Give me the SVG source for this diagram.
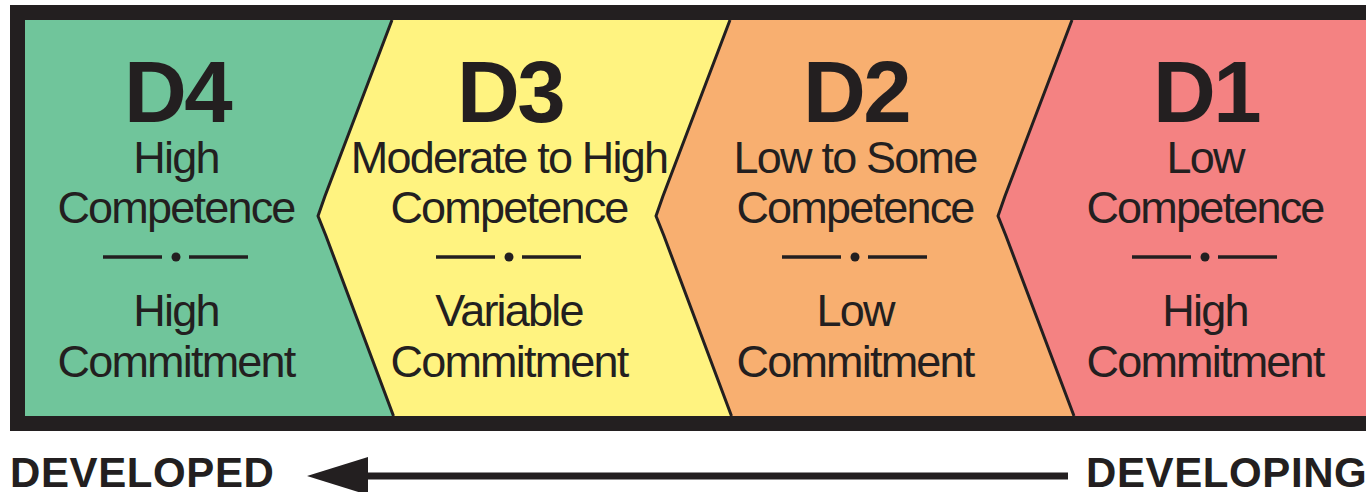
<svg xmlns="http://www.w3.org/2000/svg" width="1366" height="492" viewBox="0 0 1366 492">
  <style>
    .ink { fill: #231f20; }
    .title { font-family: "Liberation Sans", Arial, sans-serif; font-weight: bold; font-size: 87px; letter-spacing: -2.5px; fill: #231f20; text-anchor: middle; }
    .sub { font-family: "Liberation Sans", Arial, sans-serif; font-size: 45px; letter-spacing: -1.8px; fill: #231f20; text-anchor: middle; }
    .axis { font-family: "Liberation Sans", Arial, sans-serif; font-weight: bold; font-size: 42px; letter-spacing: 0.6px; fill: #231f20; }
    .sep { fill: none; stroke: #231f20; stroke-width: 3; stroke-linejoin: round; }
    .rule { stroke: #231f20; stroke-width: 3.5; }
  </style>
  <defs>
    <marker id="arrowhead" markerUnits="userSpaceOnUse" viewBox="0 0 61 38" markerWidth="61" markerHeight="38" refX="0" refY="19" orient="auto">
      <polygon points="0,0 61,19 0,38" fill="#231f20"/>
    </marker>
    <!-- divider: two short rules with a dot between them, centred on 0 -->
    <g id="divider">
      <line class="rule" x1="-73" y1="0" x2="-14" y2="0"/>
      <circle cx="0" cy="0" r="4.5" class="ink"/>
      <line class="rule" x1="13" y1="0" x2="72" y2="0"/>
    </g>
  </defs>

  <rect width="1366" height="492" fill="#ffffff"/>

  <!-- heavy frame (runs off the right edge) -->
  <rect x="10" y="5" width="1400" height="426" class="ink"/>

  <g id="D4">
    <polygon fill="#70c59b" points="25,20 392,20 325,196 318,216 326,236 393.5,416 25,416"/>
    <text class="title" x="177" y="122">D4</text>
    <text class="sub" x="176" y="173">High</text>
    <text class="sub" x="176" y="223">Competence</text>
    <use href="#divider" x="176" y="257"/>
    <text class="sub" x="176" y="326">High</text>
    <text class="sub" x="176" y="377">Commitment</text>
  </g>

  <g id="D3">
    <polygon fill="#fff380" points="392,20 730,20 663,196 656,216 664,236 731.5,416 393.5,416 326,236 318,216 325,196"/>
    <text class="title" x="510" y="122">D3</text>
    <text class="sub" x="509" y="173">Moderate to High</text>
    <text class="sub" x="509" y="223">Competence</text>
    <use href="#divider" x="509" y="257"/>
    <text class="sub" x="509" y="326">Variable</text>
    <text class="sub" x="509" y="377">Commitment</text>
  </g>

  <g id="D2">
    <polygon fill="#f8af70" points="730,20 1072,20 1005,196 998,216 1006,236 1074,416 731.5,416 664,236 656,216 663,196"/>
    <text class="title" x="856" y="122">D2</text>
    <text class="sub" x="855" y="173">Low to Some</text>
    <text class="sub" x="855" y="223">Competence</text>
    <use href="#divider" x="855" y="257"/>
    <text class="sub" x="855" y="326">Low</text>
    <text class="sub" x="855" y="377">Commitment</text>
  </g>

  <g id="D1">
    <polygon fill="#f48282" points="1072,20 1366,20 1366,416 1074,416 1006,236 998,216 1005,196"/>
    <text class="title" x="1206" y="122">D1</text>
    <text class="sub" x="1205" y="173">Low</text>
    <text class="sub" x="1205" y="223">Competence</text>
    <use href="#divider" x="1205" y="257"/>
    <text class="sub" x="1205" y="326">High</text>
    <text class="sub" x="1205" y="377">Commitment</text>
  </g>

  <!-- chevron borders between the stages -->
  <g id="separators">
    <polyline class="sep" points="392,20 325,196 318,216 326,236 393.5,416"/>
    <polyline class="sep" points="730,20 663,196 656,216 664,236 731.5,416"/>
    <polyline class="sep" points="1072,20 1005,196 998,216 1006,236 1074,416"/>
  </g>

  <!-- development axis -->
  <g id="connectors">
    <line x1="1068" y1="476" x2="368" y2="476" stroke="#231f20" stroke-width="7" marker-end="url(#arrowhead)"/>
  </g>
  <g id="axis-labels">
    <text class="axis" x="10" y="487">DEVELOPED</text>
    <text class="axis" x="1086" y="487">DEVELOPING</text>
  </g>
</svg>
